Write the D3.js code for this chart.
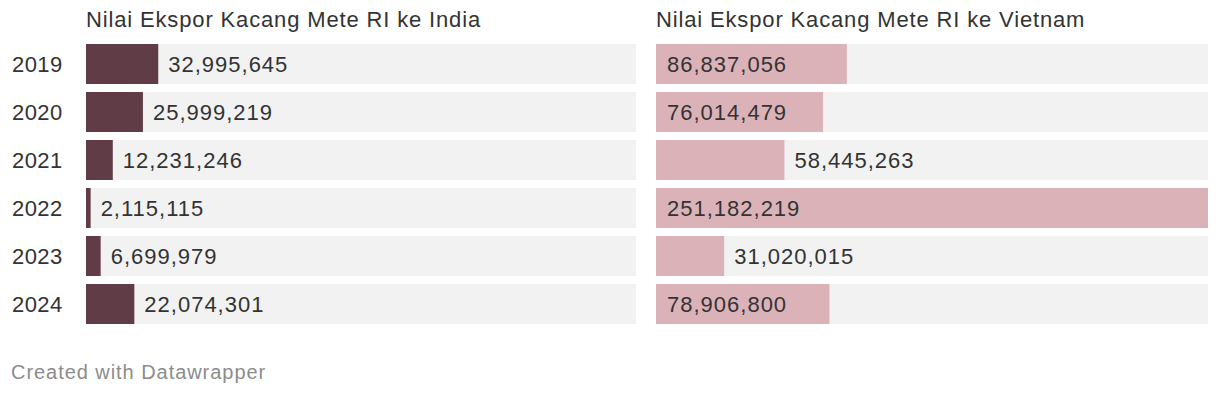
<!DOCTYPE html>
<html>
<head>
<meta charset="utf-8">
<script src="https://cdn.jsdelivr.net/npm/d3@7"></script>
<style>
  body { margin: 0; background: #fff; }
  svg text { font-family: "Liberation Sans", Arial, Helvetica, sans-serif; }
</style>
</head>
<body>
<script>
"use strict";

const years = ["2019", "2020", "2021", "2022", "2023", "2024"];
const india = [32995645, 25999219, 12231246, 2115115, 6699979, 22074301];
const vietnam = [86837056, 76014479, 58445263, 251182219, 31020015, 78906800];
const titles = ["Nilai Ekspor Kacang Mete RI ke India", "Nilai Ekspor Kacang Mete RI ke Vietnam"];
const colors = ["#603c46", "#dcb2b9"];

let W = 1220, H = 396;
let svg = d3.select("body").append("svg").attr("width", W).attr("height", H);

let fmt = d3.format(",");
let maxVal = d3.max(india.concat(vietnam));

let y = d3.scaleBand().domain(years).range([44, 324]).paddingInner(1 / 6).paddingOuter(0);

let panels = [
    { x0: 86, x1: 636, data: india, title: titles[0], color: colors[0] },
    { x0: 656, x1: 1208, data: vietnam, title: titles[1], color: colors[1] }
];

// year labels
svg.append("g").selectAll("text")
    .data(years).enter().append("text")
    .attr("x", 12)
    .attr("y", d => y(d) + y.bandwidth() / 2 + 7.5)
    .attr("font-size", 22)
    .attr("letter-spacing", 0.4)
    .attr("fill", "#333")
    .text(d => d);

panels.forEach(p => {
    let x = d3.scaleLinear().domain([0, maxVal]).range([p.x0, p.x1]);
    let g = svg.append("g");

    g.append("text")
        .attr("x", p.x0)
        .attr("y", 27)
        .attr("font-size", 22)
        .attr("letter-spacing", 0.85)
        .attr("fill", "#333")
        .text(p.title);

    let rows = g.selectAll("g.row")
        .data(years.map((yr, i) => ({ yr: yr, v: p.data[i] })))
        .enter().append("g").attr("class", "row");

    rows.append("rect")
        .attr("x", p.x0)
        .attr("y", d => y(d.yr))
        .attr("width", p.x1 - p.x0)
        .attr("height", y.bandwidth())
        .attr("fill", "#f2f2f2");

    rows.append("rect")
        .attr("x", p.x0)
        .attr("y", d => y(d.yr))
        .attr("width", d => x(d.v) - p.x0)
        .attr("height", y.bandwidth())
        .attr("fill", p.color);

    rows.append("text")
        .attr("y", d => y(d.yr) + y.bandwidth() / 2 + 7.5)
        .attr("font-size", 22)
        .attr("letter-spacing", 1)
        .attr("fill", "#333")
        .text(d => fmt(d.v))
        .each(function(d) {
            let tw = this.getComputedTextLength();
            let bw = x(d.v) - p.x0;
            // label goes inside only on the light bars that are wide enough
            if (p.color === colors[1] && bw > tw + 22) {
                d3.select(this).attr("x", p.x0 + 11);
            } else {
                d3.select(this).attr("x", x(d.v) + 10);
            }
        });
});

svg.append("text")
    .attr("x", 11)
    .attr("y", 379)
    .attr("font-size", 20)
    .attr("letter-spacing", 0.95)
    .attr("fill", "#8c8c8c")
    .text("Created with Datawrapper");
</script>
</body>
</html>
